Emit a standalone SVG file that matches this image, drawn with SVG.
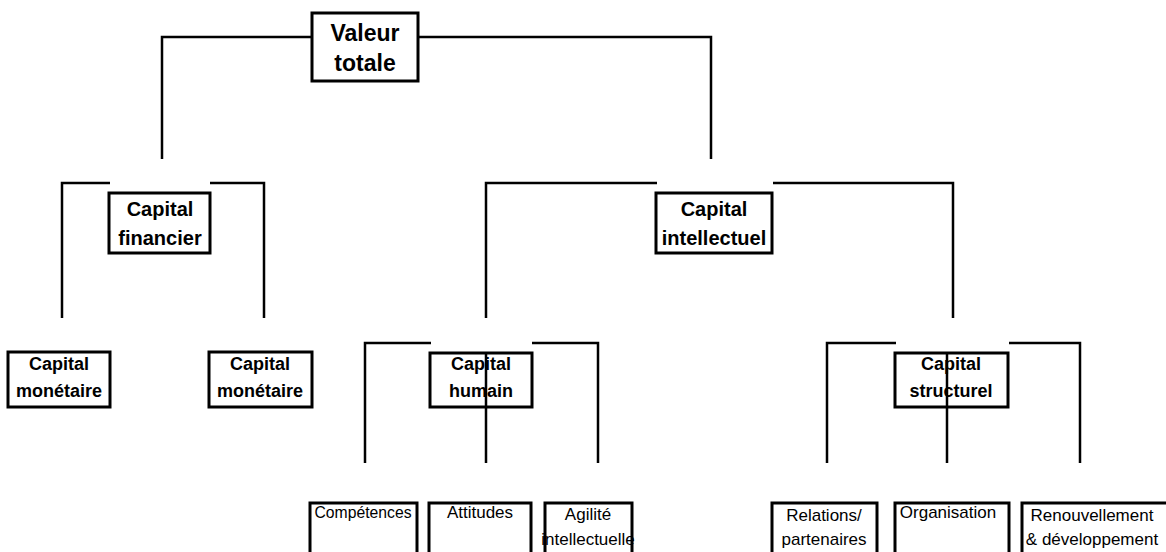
<svg xmlns="http://www.w3.org/2000/svg" width="1166" height="552" viewBox="0 0 1166 552">
<style>
.box{fill:#fff;stroke:#000;stroke-width:3}
.ln{fill:none;stroke:#000;stroke-width:2.5}
.b{font-family:"Liberation Sans",Arial,sans-serif;font-weight:bold;text-anchor:middle;fill:#000}
.r{font-family:"Liberation Sans",Arial,sans-serif;font-size:17px;text-anchor:middle;fill:#000}
</style>
<rect width="1166" height="552" fill="#fff"/>
<g id="connectors">
<path class="ln" d="M162,159 V37 H312 M418,37 H711 V159"/>
<path class="ln" d="M62,318 V183 H110 M210,183 H264 V318"/>
<path class="ln" d="M486,318 V183 H657 M773,183 H953 V318"/>
<path class="ln" d="M365,463 V343 H431 M532,343 H598 V463 M486,353 V463"/>
<path class="ln" d="M827,463 V343 H896 M1009,343 H1080 V463 M947,353 V463"/>
</g>
<g id="valeur">
<rect class="box" x="312" y="13" width="106" height="68"/>
<text class="b" x="365" y="41" font-size="23">Valeur</text>
<text class="b" x="365" y="71" font-size="23">totale</text>
</g>
<g id="financier">
<rect class="box" x="109" y="193" width="101" height="60"/>
<text class="b" x="160" y="216" font-size="20">Capital</text>
<text class="b" x="160" y="245" font-size="20">financier</text>
</g>
<g id="intellectuel">
<rect class="box" x="656" y="193" width="116" height="60"/>
<text class="b" x="714" y="216" font-size="20">Capital</text>
<text class="b" x="714" y="245" font-size="20">intellectuel</text>
</g>
<g id="monetaire1">
<rect class="box" x="8" y="352" width="102" height="55"/>
<text class="b" x="59" y="370" font-size="18">Capital</text>
<text class="b" x="59" y="397" font-size="18">monétaire</text>
</g>
<g id="monetaire2">
<rect class="box" x="209" y="352" width="103" height="55"/>
<text class="b" x="260" y="370" font-size="18">Capital</text>
<text class="b" x="260" y="397" font-size="18">monétaire</text>
</g>
<g id="humain">
<rect class="box" x="430" y="353" width="102" height="54" fill-opacity="0"/>
<text class="b" x="481" y="370" font-size="18">Capital</text>
<text class="b" x="481" y="397" font-size="18">humain</text>
</g>
<g id="structurel">
<rect class="box" x="895" y="353" width="113" height="54" fill-opacity="0"/>
<text class="b" x="951" y="370" font-size="18">Capital</text>
<text class="b" x="951" y="397" font-size="18">structurel</text>
</g>
<g id="competences">
<rect class="box" x="310" y="503" width="107" height="60"/>
<text class="r" x="363" y="518" textLength="97" lengthAdjust="spacingAndGlyphs">Compétences</text>
</g>
<g id="attitudes">
<rect class="box" x="429" y="503" width="102" height="60"/>
<text class="r" x="480" y="518">Attitudes</text>
</g>
<g id="agilite">
<rect class="box" x="545" y="503" width="87" height="60"/>
<text class="r" x="588" y="520">Agilité</text>
<text class="r" x="588" y="545">intellectuelle</text>
</g>
<g id="relations">
<rect class="box" x="772" y="503" width="105" height="60"/>
<text class="r" x="824" y="521">Relations/</text>
<text class="r" x="824" y="545">partenaires</text>
</g>
<g id="organisation">
<rect class="box" x="895" y="503" width="114" height="60"/>
<text class="r" x="948" y="518">Organisation</text>
</g>
<g id="renouvellement">
<rect class="box" x="1022" y="503" width="150" height="60"/>
<text class="r" x="1092" y="521">Renouvellement</text>
<text class="r" x="1092" y="545">&amp; développement</text>
</g>
</svg>
